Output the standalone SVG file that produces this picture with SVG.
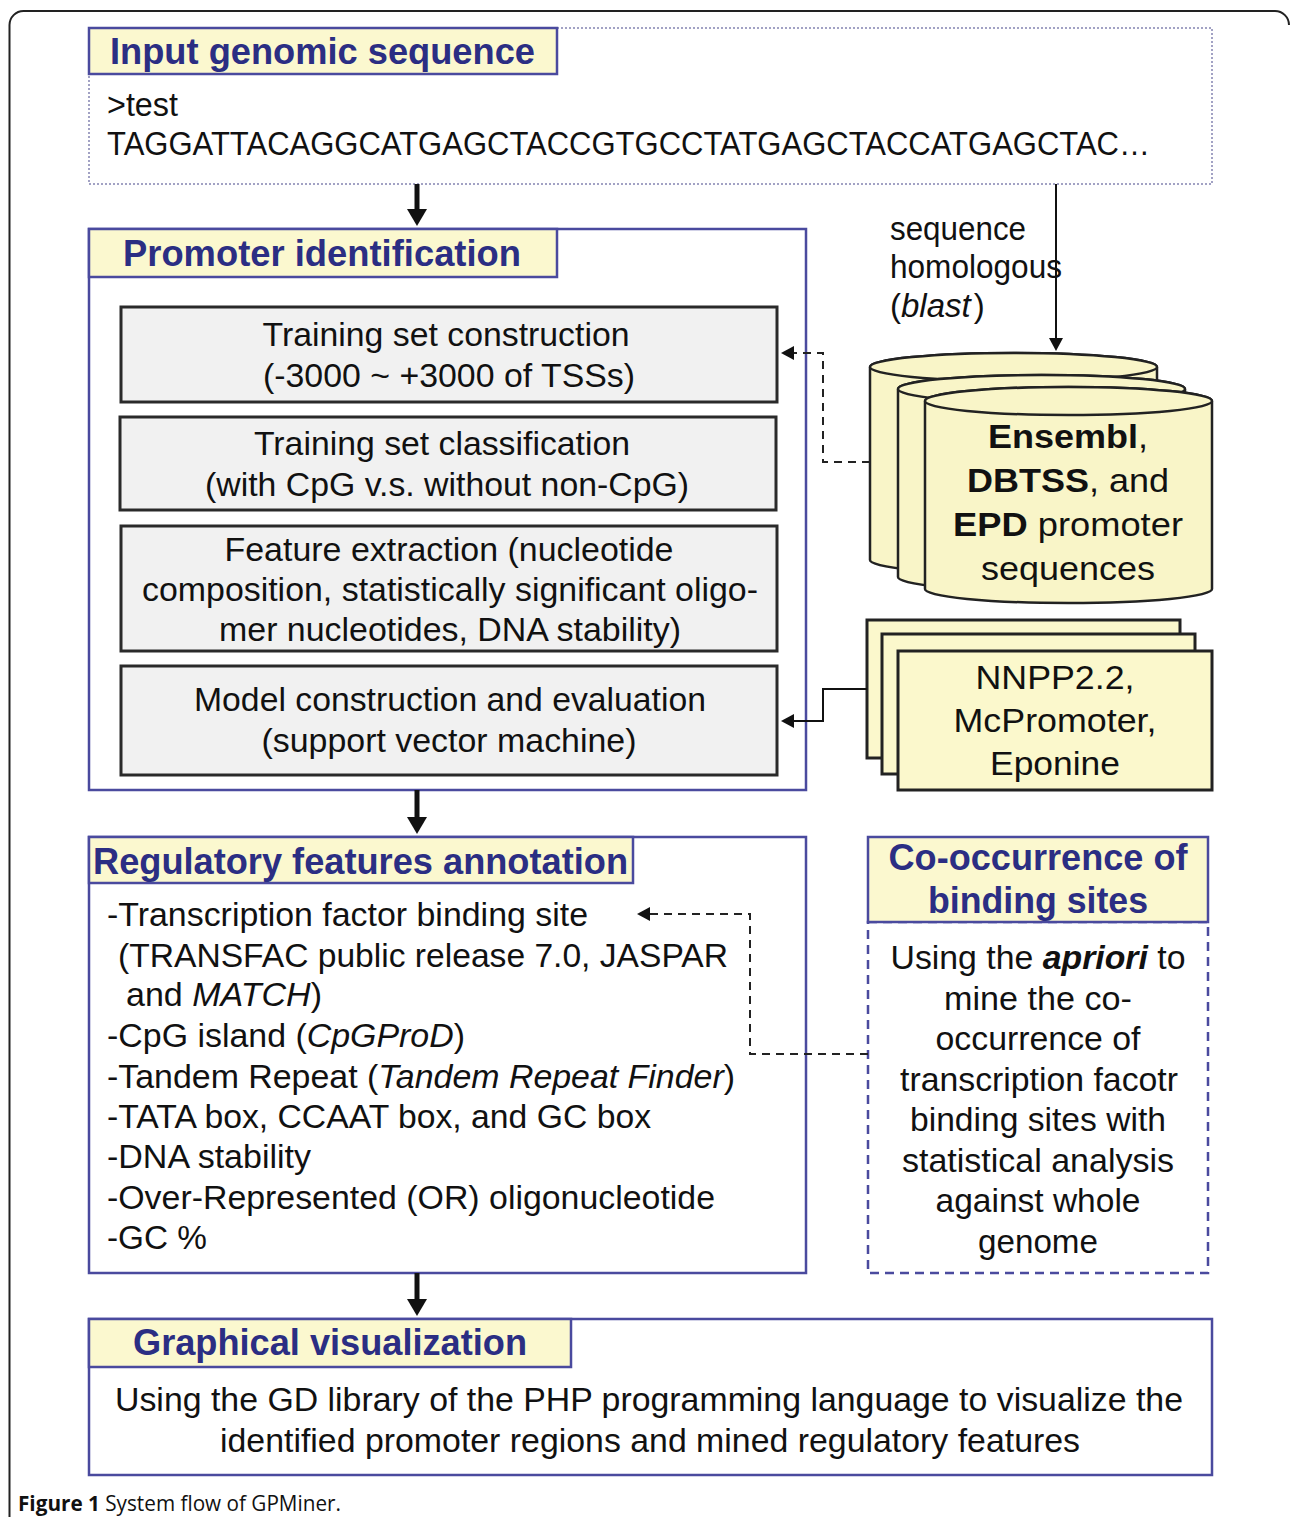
<svg xmlns="http://www.w3.org/2000/svg" width="1290" height="1517" viewBox="0 0 1290 1517">
<defs>
<style>
.frame{fill:none;stroke:#222;stroke-width:2}
.hdr{fill:#fbf8cf;stroke:#4a4a9e;stroke-width:2.5}
.box{fill:#fff;stroke:#4a4a9e;stroke-width:2.5}
.dotbox{fill:#fff;stroke:#a2a2c4;stroke-width:2;stroke-dasharray:2 2}
.dashbox{fill:none;stroke:#4a4a9e;stroke-width:2.5;stroke-dasharray:9 6}
.gbox{fill:#f1f1f1;stroke:#2a2a2a;stroke-width:3}
.ybox{fill:#fbf8cc;stroke:#222;stroke-width:3}
.cyl{fill:#f9f5c8;stroke:#222;stroke-width:2.5}
.htxt{font-family:'Liberation Sans',Arial,sans-serif;font-weight:bold;font-size:36px;fill:#2b2e83}
.t{font-family:'Liberation Sans',Arial,sans-serif;font-size:33px;fill:#111}
.c{text-anchor:middle}
.b{font-weight:bold}
.i{font-style:italic}
.thick{fill:none;stroke:#111;stroke-width:5}
.thin{fill:none;stroke:#111;stroke-width:2}
.dash{fill:none;stroke:#222;stroke-width:2;stroke-dasharray:8 6}
.cap{font-family:'Open Sans','Liberation Sans',Arial,sans-serif;font-size:21px;fill:#111}
</style>
<marker id="ahT" markerUnits="userSpaceOnUse" markerWidth="20" markerHeight="20" refX="2" refY="10" orient="auto"><path d="M0,0 L17,10 L0,20 z" fill="#111"/></marker>
<marker id="ah" markerUnits="userSpaceOnUse" markerWidth="14" markerHeight="14" refX="2" refY="7" orient="auto"><path d="M0,0 L13,7 L0,14 z" fill="#111"/></marker>
</defs>
<rect width="1290" height="1517" fill="#fff"/>
<path class="frame" d="M9.5,1517 V25 A14,14 0 0 1 23.5,11 H1275 A14,14 0 0 1 1289,25"/>

<g id="input">
<rect class="dotbox" x="89" y="28" width="1123" height="156"/>
<rect class="hdr" x="89" y="28" width="468" height="46"/>
<text class="htxt" x="110" y="64" textLength="425" lengthAdjust="spacingAndGlyphs">Input genomic sequence</text>
<text class="t" x="107" y="116" font-size="31" textLength="71" lengthAdjust="spacingAndGlyphs">&gt;test</text>
<text class="t" x="107" y="155" font-size="32" textLength="1043" lengthAdjust="spacingAndGlyphs">TAGGATTACAGGCATGAGCTACCGTGCCTATGAGCTACCATGAGCTAC…</text>
</g>

<g id="promoter">
<rect class="box" x="89" y="229" width="717" height="561"/>
<rect class="hdr" x="89" y="229" width="468" height="48"/>
<text class="htxt" x="123" y="266" textLength="398" lengthAdjust="spacingAndGlyphs">Promoter identification</text>
</g>

<g id="training-construction">
<rect class="gbox" x="121" y="307" width="656" height="95"/>
<text class="t c" x="446" y="346" textLength="367" lengthAdjust="spacingAndGlyphs">Training set construction</text>
<text class="t c" x="449" y="387" textLength="372" lengthAdjust="spacingAndGlyphs">(-3000 ~ +3000 of TSSs)</text>
</g>

<g id="training-classification">
<rect class="gbox" x="120" y="417" width="656" height="93"/>
<text class="t c" x="442" y="455" textLength="376" lengthAdjust="spacingAndGlyphs">Training set classification</text>
<text class="t c" x="447" y="496" textLength="484" lengthAdjust="spacingAndGlyphs">(with CpG v.s. without non-CpG)</text>
</g>

<g id="feature-extraction">
<rect class="gbox" x="121" y="526" width="656" height="125"/>
<text class="t c" x="449" y="561" textLength="449" lengthAdjust="spacingAndGlyphs">Feature extraction (nucleotide</text>
<text class="t c" x="450" y="601" textLength="616" lengthAdjust="spacingAndGlyphs">composition, statistically significant oligo-</text>
<text class="t c" x="450" y="641" textLength="462" lengthAdjust="spacingAndGlyphs">mer nucleotides, DNA stability)</text>
</g>

<g id="model">
<rect class="gbox" x="121" y="666" width="656" height="109"/>
<text class="t c" x="450" y="711" textLength="512" lengthAdjust="spacingAndGlyphs">Model construction and evaluation</text>
<text class="t c" x="449" y="752" textLength="375" lengthAdjust="spacingAndGlyphs">(support vector machine)</text>
</g>

<g id="blast-label">
<text class="t" x="890" y="240" font-size="27" textLength="136" lengthAdjust="spacingAndGlyphs">sequence</text>
<text class="t" x="890" y="278" font-size="27" textLength="172" lengthAdjust="spacingAndGlyphs">homologous</text>
<text class="t" x="890" y="317" font-size="27">(<tspan class="i">blast</tspan><tspan dx="3">)</tspan></text>
</g>

<g id="databases">
<path class="cyl" d="M870,367 V560 A143.5,14 0 0 0 1157,560 V367 A143.5,14 0 0 0 870,367 Z"/>
<ellipse class="cyl" cx="1013.5" cy="367" rx="143.5" ry="14"/>
<path class="cyl" d="M898,389 V577 A143.5,14 0 0 0 1185,577 V389 A143.5,14 0 0 0 898,389 Z"/>
<ellipse class="cyl" cx="1041.5" cy="389" rx="143.5" ry="14"/>
<path class="cyl" d="M925,401 V589 A143.5,14 0 0 0 1212,589 V401 A143.5,14 0 0 0 925,401 Z"/>
<ellipse class="cyl" cx="1068.5" cy="401" rx="143.5" ry="14"/>
<text class="t c" x="1068" y="448" textLength="160" lengthAdjust="spacingAndGlyphs"><tspan class="b">Ensembl</tspan>,</text>
<text class="t c" x="1068" y="492" textLength="202" lengthAdjust="spacingAndGlyphs"><tspan class="b">DBTSS</tspan>, and</text>
<text class="t c" x="1068" y="536" textLength="230" lengthAdjust="spacingAndGlyphs"><tspan class="b">EPD</tspan> promoter</text>
<text class="t c" x="1068" y="580" textLength="174" lengthAdjust="spacingAndGlyphs">sequences</text>
</g>

<g id="predictors">
<rect class="ybox" x="867" y="620" width="313" height="138"/>
<rect class="ybox" x="882" y="634" width="313" height="140"/>
<rect class="ybox" x="898" y="651" width="314" height="139"/>
<text class="t c" x="1055" y="689" textLength="159" lengthAdjust="spacingAndGlyphs">NNPP2.2,</text>
<text class="t c" x="1055" y="732" textLength="203" lengthAdjust="spacingAndGlyphs">McPromoter,</text>
<text class="t c" x="1055" y="775" textLength="130" lengthAdjust="spacingAndGlyphs">Eponine</text>
</g>

<g id="regulatory">
<rect class="box" x="89" y="837" width="717" height="436"/>
<rect class="hdr" x="89" y="837" width="544" height="46"/>
<text class="htxt" x="93" y="874" textLength="535" lengthAdjust="spacingAndGlyphs">Regulatory features annotation</text>
<text class="t" x="107" y="926" textLength="481" lengthAdjust="spacingAndGlyphs">-Transcription factor binding site</text>
<text class="t" x="118" y="967" textLength="610" lengthAdjust="spacingAndGlyphs">(TRANSFAC public release 7.0, JASPAR</text>
<text class="t" x="126" y="1006" textLength="196" lengthAdjust="spacingAndGlyphs">and <tspan class="i">MATCH</tspan>)</text>
<text class="t" x="107" y="1047" textLength="358" lengthAdjust="spacingAndGlyphs">-CpG island (<tspan class="i">CpGProD</tspan>)</text>
<text class="t" x="107" y="1088" textLength="628" lengthAdjust="spacingAndGlyphs">-Tandem Repeat (<tspan class="i">Tandem Repeat Finder</tspan>)</text>
<text class="t" x="107" y="1128" textLength="544" lengthAdjust="spacingAndGlyphs">-TATA box, CCAAT box, and GC box</text>
<text class="t" x="107" y="1168" textLength="204" lengthAdjust="spacingAndGlyphs">-DNA stability</text>
<text class="t" x="107" y="1209" textLength="608" lengthAdjust="spacingAndGlyphs">-Over-Represented (OR) oligonucleotide</text>
<text class="t" x="107" y="1249" textLength="100" lengthAdjust="spacingAndGlyphs">-GC %</text>
</g>

<g id="cooccurrence">
<rect class="dashbox" x="868" y="922" width="340" height="351"/>
<rect class="hdr" x="868" y="837" width="340" height="85"/>
<text class="htxt c" x="1038" y="870" textLength="299" lengthAdjust="spacingAndGlyphs">Co-occurrence of</text>
<text class="htxt c" x="1038" y="913" textLength="220" lengthAdjust="spacingAndGlyphs">binding sites</text>
<text class="t c" x="1038" y="969" textLength="295" lengthAdjust="spacingAndGlyphs">Using the <tspan class="b i">apriori</tspan> to</text>
<text class="t c" x="1038" y="1010" textLength="188" lengthAdjust="spacingAndGlyphs">mine the co-</text>
<text class="t c" x="1038" y="1050" textLength="205" lengthAdjust="spacingAndGlyphs">occurrence of</text>
<text class="t c" x="1039" y="1091" textLength="278" lengthAdjust="spacingAndGlyphs">transcription facotr</text>
<text class="t c" x="1038" y="1131" textLength="256" lengthAdjust="spacingAndGlyphs">binding sites with</text>
<text class="t c" x="1038" y="1172" textLength="272" lengthAdjust="spacingAndGlyphs">statistical analysis</text>
<text class="t c" x="1038" y="1212" textLength="205" lengthAdjust="spacingAndGlyphs">against whole</text>
<text class="t c" x="1038" y="1253" textLength="120" lengthAdjust="spacingAndGlyphs">genome</text>
</g>

<g id="visualization">
<rect class="box" x="89" y="1319" width="1123" height="156"/>
<rect class="hdr" x="89" y="1319" width="482" height="48"/>
<text class="htxt" x="133" y="1355" textLength="394" lengthAdjust="spacingAndGlyphs">Graphical visualization</text>
<text class="t c" x="649" y="1411" textLength="1068" lengthAdjust="spacingAndGlyphs">Using the GD library of the PHP programming language to visualize the</text>
<text class="t c" x="650" y="1452" textLength="860" lengthAdjust="spacingAndGlyphs">identified promoter regions and mined regulatory features</text>
</g>

<g id="connectors">
<line class="thick" x1="417" y1="184" x2="417" y2="211" marker-end="url(#ahT)"/>
<line class="thick" x1="417" y1="790" x2="417" y2="819" marker-end="url(#ahT)"/>
<line class="thick" x1="417" y1="1273" x2="417" y2="1301" marker-end="url(#ahT)"/>
<line class="thin" x1="1056" y1="184" x2="1056" y2="340" marker-end="url(#ah)"/>
<path class="dash" d="M870,462 H823 V353 H792" marker-end="url(#ah)"/>
<path class="thin" d="M867,689 H823 V721 H792" marker-end="url(#ah)"/>
<path class="dash" d="M868,1054 H750 V914 H648" marker-end="url(#ah)"/>
</g>

<g id="caption">
<text class="cap" x="18" y="1511" textLength="323" lengthAdjust="spacingAndGlyphs"><tspan class="b">Figure 1</tspan> System flow of GPMiner.</text>
</g>
</svg>
